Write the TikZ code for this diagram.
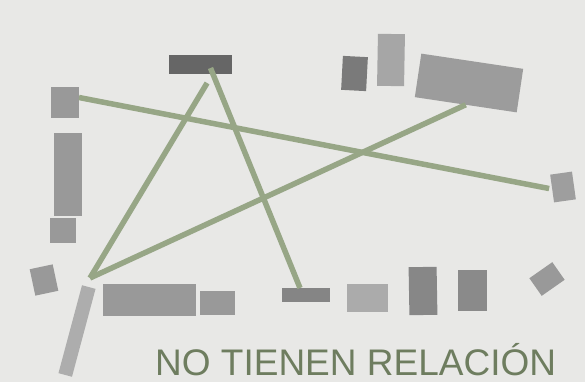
\documentclass[tikz,border=0pt]{standalone}
\usepackage{fontspec}
\setmainfont{Liberation Sans}
\definecolor{bgcol}{RGB}{232,232,230}
\definecolor{linkgreen}{RGB}{151,166,134}
\definecolor{titlegreen}{RGB}{110,125,95}

\begin{document}
\begin{tikzpicture}[x=1pt, y=-1pt,
    blk/.style={rectangle, inner sep=0pt, outer sep=0pt, draw=none},
    link/.style={line width=5.5pt, draw=linkgreen}]
    \fill[bgcol] (0,0) rectangle (585,382);
    \useasboundingbox (0,0) rectangle (585,382);

    % blocks, left column
    \node[blk, fill=black!60, minimum width=63pt, minimum height=19pt] (topbar) at (200.5,64.5) {};
    \node[blk, fill=black!40, minimum width=28pt, minimum height=31pt] (leftsq) at (65,102.5) {};
    \node[blk, fill=black!40, minimum width=28pt, minimum height=83pt] (lefttall) at (68,174.5) {};
    \node[blk, fill=black!40, minimum width=26pt, minimum height=25pt] (leftlow) at (63,230.5) {};
    \node[blk, fill=black!40, minimum width=23.5pt, minimum height=27pt, rotate=12] (tiltsq) at (44,280) {};
    \node[blk, fill=black!32, minimum width=14pt, minimum height=91pt, rotate=-15] (tiltbar) at (77,331) {};

    % blocks, bottom row
    \node[blk, fill=black!40, minimum width=93pt, minimum height=32pt] (wide) at (149.5,300) {};
    \node[blk, fill=black!40, minimum width=35pt, minimum height=24pt] (small) at (217.5,303) {};
    \node[blk, fill=black!48, minimum width=48pt, minimum height=14pt] (midbar) at (306,295) {};
    \node[blk, fill=black!33, minimum width=41pt, minimum height=28pt] (light) at (367.5,298) {};
    \node[blk, fill=black!47, minimum width=28pt, minimum height=48pt, rotate=1] (post1) at (423,291) {};
    \node[blk, fill=black!46, minimum width=29pt, minimum height=41pt] (post2) at (472.5,290.5) {};
    \node[blk, fill=black!40, minimum width=28pt, minimum height=21.5pt, rotate=35] (tiltr) at (547,279) {};

    % blocks, top right
    \node[blk, fill=black!52, minimum width=25pt, minimum height=34pt, rotate=-3] (darksq) at (354.5,73.5) {};
    \node[blk, fill=black!35, minimum width=27pt, minimum height=52pt, rotate=-1] (lighttall) at (391,60) {};
    \node[blk, fill=black!39, minimum width=103pt, minimum height=44pt, rotate=-8.5] (big) at (469,83) {};
    \node[blk, fill=black!38, minimum width=22pt, minimum height=28pt, rotate=8] (rightsq) at (563,187) {};

    \coordinate (hub) at (90,278);

    % links
    \draw[link] ([yshift=5pt]leftsq.east) -- ([xshift=-3pt]rightsq.west);
    \draw[link] ([xshift=10pt,yshift=-3.5pt]topbar.center) -- ([xshift=-6pt]midbar.north);
    \draw[link, shorten <=10.5pt] ([xshift=12pt]topbar.south) -- (hub);
    \draw[link] (hub) -- (big.south);

    \node[anchor=base west, inner sep=0pt, text=titlegreen, font=\fontsize{37}{40}\selectfont] (title) at (155,375) {NO TIENEN RELACIÓN};
\end{tikzpicture}
\end{document}
